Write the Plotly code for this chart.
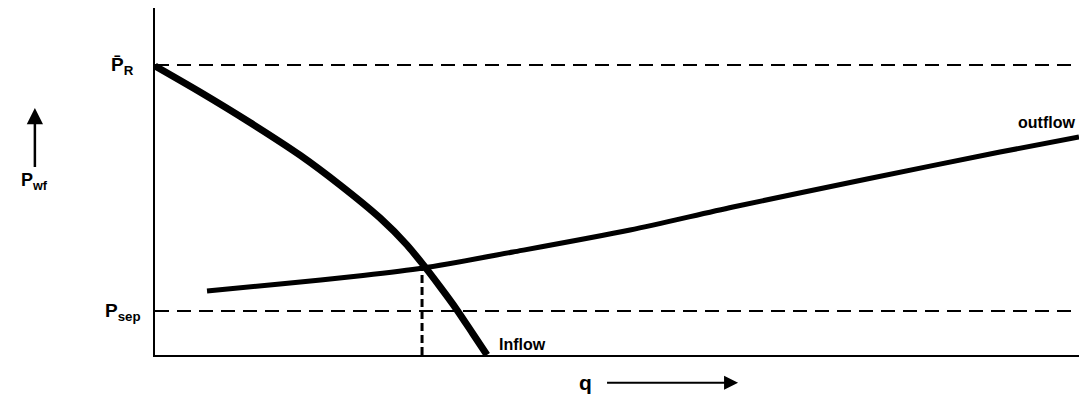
import plotly.graph_objects as go

# Data (relative units, q: 0-100, p: 0-100)
q_inflow = [0.0, 4.87, 10.28, 15.69, 20.02, 24.35, 27.27, 29.0, 30.84, 32.68, 34.42, 35.93]
p_inflow = [83.3, 75.8, 67.0, 57.6, 49.0, 39.5, 31.7, 26.1, 19.7, 13.0, 6.05, 0.0]
q_outflow = [5.63, 13.53, 22.51, 29.0, 38.74, 51.41, 62.55, 77.06, 91.45, 100.0]
p_outflow = [18.44, 20.46, 22.91, 25.07, 29.68, 36.02, 42.65, 50.72, 58.5, 62.82]
p_R = 83.6
p_sep = 12.7
q_op = 28.9
p_op = 25.0
q_range = [0, 100]
p_range = [0, 100]

fig = go.Figure()

# reference dashed lines
fig.add_trace(go.Scatter(x=q_range, y=[p_R, p_R], mode="lines",
                         line=dict(color="black", width=2, dash="14px,8px")))
fig.add_trace(go.Scatter(x=q_range, y=[p_sep, p_sep], mode="lines",
                         line=dict(color="black", width=2, dash="14px,8px")))
fig.add_trace(go.Scatter(x=[q_op, q_op], y=[0, p_op], mode="lines",
                         line=dict(color="black", width=3, dash="8px,4px")))

# curves
fig.add_trace(go.Scatter(x=q_outflow, y=p_outflow, mode="lines",
                         line=dict(color="black", width=5, shape="spline", smoothing=0.8)))
fig.add_trace(go.Scatter(x=q_inflow, y=p_inflow, mode="lines",
                         line=dict(color="black", width=7, shape="spline", smoothing=0.8)))

font = dict(family="Liberation Sans, Arial, sans-serif", color="black")
P = dict(xref="paper", yref="paper", showarrow=False)

ann = [
    dict(x=-0.021, y=0.833, text="<b>P\u0304<sub>R</sub></b>", xanchor="right", yanchor="middle",
         font=dict(size=19, **font), **P),
    dict(x=-0.013, y=0.124, text="<b>P<sub>sep</sub></b>", xanchor="right", yanchor="middle",
         font=dict(size=19, **font), **P),
    dict(x=0.370, y=0.029, text="<b>Inflow</b>", xanchor="left", yanchor="middle",
         font=dict(size=16, **font), **P),
    dict(x=0.998, y=0.671, text="<b>outflow</b>", xanchor="right", yanchor="middle",
         font=dict(size=16, **font), **P),
    # labels with arrows (text sits at the arrow tail)
    dict(x=-0.13, y=0.712, ax=0, ay=74, xref="paper", yref="paper",
         text="<b>P<sub>wf</sub></b>", font=dict(size=18, **font),
         showarrow=True, arrowhead=2, arrowsize=1.3, arrowwidth=2.5, arrowcolor="black",
         startstandoff=2),
    dict(x=0.631, y=-0.08, ax=-153, ay=0, xref="paper", yref="paper",
         text="<b>q</b>", font=dict(size=21, **font),
         showarrow=True, arrowhead=2, arrowsize=1.4, arrowwidth=2, arrowcolor="black",
         startstandoff=14),
]
fig.update_layout(annotations=ann)

fig.update_layout(
    width=1079, height=394,
    margin=dict(l=155, r=0, t=8, b=39),
    paper_bgcolor="white", plot_bgcolor="white",
    showlegend=False,
    xaxis=dict(range=q_range, showgrid=False, zeroline=False, showticklabels=False,
               showline=True, linecolor="black", linewidth=2, ticks=""),
    yaxis=dict(range=p_range, showgrid=False, zeroline=False, showticklabels=False,
               showline=True, linecolor="black", linewidth=2, ticks=""),
)

fig.write_html("out.html", config={"displayModeBar": False},
               post_script="document.body.style.margin='0px';")
